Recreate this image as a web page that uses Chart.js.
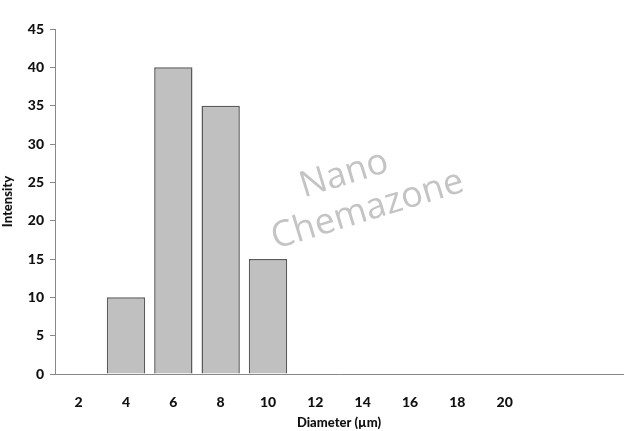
<!DOCTYPE html>
<html><head><meta charset="utf-8">
<script src="https://cdn.jsdelivr.net/npm/chart.js@4/dist/chart.umd.min.js"></script>
<style>html,body{margin:0;padding:0;background:#fff}#w{width:624px;height:431px}</style>
</head><body><div id="w"><canvas id="c" width="624" height="431"></canvas></div>
<script>
const categories = ["2","4","6","8","10","12","14","16","18","20","",""];
const intensity = [0,10,40,35,15,0,0,0,0,0,null,null];
const yTicks = [0,5,10,15,20,25,30,35,40,45];

const watermark = {
  id:'watermark',
  afterDraw(chart){
    const ctx = chart.ctx;
    ctx.save();
    ctx.fillStyle = '#c4c4c4';
    ctx.font = '36px "Open Sans"';
    ctx.textAlign = 'center';
    ctx.textBaseline = 'middle';
    ctx.translate(362,192);
    ctx.rotate(-17*Math.PI/180);
    ctx.fillText('Nano', -12, -22);
    ctx.fillText('Chemazone', 0, 19);
    ctx.restore();
  }
};

const tickFont = {family:'Lato',weight:900,size:14};

new Chart(document.getElementById('c'), {
  type:'bar',
  data:{labels:categories, datasets:[{data:intensity, backgroundColor:'#c0c0c0', borderColor:'#5a5a5a', borderWidth:1.5, categoryPercentage:1, barPercentage:0.81}]},
  options:{
    responsive:false, animation:false, devicePixelRatio:1,
    layout:{padding:{top:29,right:1,left:0,bottom:0}},
    plugins:{legend:{display:false},tooltip:{enabled:false}},
    scales:{
      x:{
        grid:{display:false},
        border:{display:true,color:'#888888',width:1},
        ticks:{color:'#111',font:tickFont,padding:12,maxRotation:0,autoSkip:false},
        title:{display:true,text:'Diameter (µm)',color:'#111',font:{family:'Lato',weight:900,size:13},padding:{top:4,bottom:0}},
        afterFit(s){s.height=57;}
      },
      y:{
        min:0,max:45,
        afterBuildTicks(s){s.ticks = yTicks.map(v=>({value:v}));},
        grid:{display:true,drawOnChartArea:false,tickLength:5,color:'#888888'},
        border:{display:true,color:'#888888',width:1},
        ticks:{color:'#111',font:tickFont,padding:6},
        title:{display:true,text:'Intensity',color:'#111',font:{family:'Lato',weight:900,size:13},padding:{top:0,bottom:2}},
        afterFit(s){s.width=55;}
      }
    }
  },
  plugins:[watermark]
});
</script></body></html>
